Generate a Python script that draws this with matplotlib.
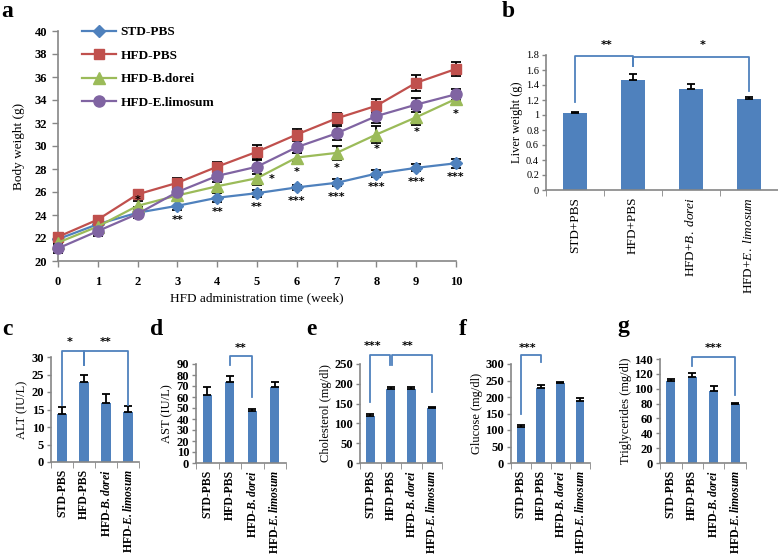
import matplotlib
matplotlib.use("Agg")
import matplotlib.pyplot as plt
import numpy as np

plt.rcParams["font.family"] = ["Liberation Serif", "DejaVu Serif"]
plt.rcParams["mathtext.fontset"] = "custom"
plt.rcParams["mathtext.rm"] = "Liberation Serif"
plt.rcParams["mathtext.it"] = "Liberation Serif:italic"
plt.rcParams["mathtext.bf"] = "Liberation Serif:bold"
plt.rcParams["mathtext.bfit"] = "Liberation Serif:italic:bold"

# ── data: panel a (body weight) ──────────────────────────────────────────────
WEEKS = list(range(11))
SERIES = ["STD-PBS", "HFD-PBS", "HFD-B.dorei", "HFD-E.limosum"]
STD_PBS = [21.9, 23.2, 24.2, 24.8, 25.5, 25.9, 26.4, 26.8, 27.6, 28.1, 28.5]
HFD_PBS = [22.1, 23.6, 25.8, 26.8, 28.2, 29.5, 31.0, 32.4, 33.5, 35.5, 36.7]
HFD_BDO = [21.6, 23.0, 24.8, 25.7, 26.5, 27.2, 29.0, 29.4, 31.0, 32.5, 34.1]
HFD_ELI = [21.1, 22.6, 24.1, 26.0, 27.4, 28.2, 29.9, 31.1, 32.6, 33.6, 34.5]
STD_PBS_ERR = [0.3, 0.3, 0.5, 0.4, 0.4, 0.3, 0.2, 0.3, 0.3, 0.3, 0.4]
HFD_PBS_ERR = [0.3, 0.3, 0.3, 0.4, 0.4, 0.6, 0.5, 0.5, 0.6, 0.7, 0.6]
HFD_BDO_ERR = [0.3, 0.3, 0.4, 0.5, 0.6, 0.6, 0.4, 0.6, 0.7, 0.7, 0.5]
HFD_ELI_ERR = [0.4, 0.4, 0.4, 0.3, 0.5, 0.6, 0.5, 0.6, 0.6, 0.6, 0.5]
SIG_STD = ["", "", "", "**", "**", "**", "***", "***", "***", "***", "***"]
SIG_BDO = ["", "", "*", "", "", "*", "*", "*", "*", "*", "*"]

# ── data: panels b-g (bar charts) ────────────────────────────────────────────
LABELS_B = ["STD+PBS", "HFD+PBS", r"HFD+$\mathit{B.\ dorei}$", r"HFD+$\mathit{E.\ limosum}$"]
LABELS_CG = ["STD-PBS", "HFD-PBS", r"HFD-$\mathbfit{B.dorei}$", r"HFD-$\mathbfit{E.limosum}$"]

LIVER = [1.03, 1.47, 1.35, 1.21]
LIVER_ERR = [0.01, 0.08, 0.06, 0.03]
ALT = [13.8, 22.8, 16.9, 14.2]
ALT_ERR = [1.8, 2.0, 2.6, 1.8]
AST = [62.0, 73.5, 47.5, 69.5]
AST_ERR = [7.0, 5.5, 1.8, 4.5]
CHOL = [119, 188, 188, 139]
CHOL_ERR = [4, 5, 5, 2]
GLUC = [110, 227, 241, 187]
GLUC_ERR = [6, 10, 5, 10]
TRIG = [110, 116, 97, 80]
TRIG_ERR = [3, 5, 7, 1]

# ── palette ─────────────────────────────────────────────────────────────────
BLUE = "#4F81BD"
RED = "#C0504D"
GREEN = "#9BBB59"
PURPLE = "#8064A2"
SPINE = "#868686"
BRACKET = "#4F81BD"

W, H = 778, 559
fig = plt.figure(figsize=(W / 100, H / 100), dpi=100)


def pos(l, r, t, b):
    return [l / W, 1 - b / H, (r - l) / W, (b - t) / H]


def style_axes(ax):
    for s in ["top", "right"]:
        ax.spines[s].set_visible(False)
    for s in ["left", "bottom"]:
        ax.spines[s].set_color(SPINE)
        ax.spines[s].set_linewidth(1.2)
    ax.tick_params(colors=SPINE, labelcolor="black", width=1, direction="out")


# ── panel a ─────────────────────────────────────────────────────────────────
ax = fig.add_axes(pos(58, 456, 31, 261))
style_axes(ax)
specs = [
    (STD_PBS, STD_PBS_ERR, BLUE, "D", 6.5),
    (HFD_PBS, HFD_PBS_ERR, RED, "s", 7.5),
    (HFD_BDO, HFD_BDO_ERR, GREEN, "^", 8),
    (HFD_ELI, HFD_ELI_ERR, PURPLE, "o", 8),
]
for name, (vals, errs, col, mk, ms) in zip(SERIES, specs):
    ax.errorbar(WEEKS, vals, yerr=errs, fmt="none", ecolor="black",
                elinewidth=1.3, capsize=3.5, capthick=1.3, zorder=2, clip_on=False)
    ax.plot(WEEKS, vals, color=col, marker=mk, markersize=ms, lw=1.6,
            label=name, zorder=3, clip_on=False)

star_kw = dict(ha="center", va="center", fontsize=8, fontweight="bold",
               family="DejaVu Sans")
for wk, lab in enumerate(SIG_STD):
    if lab:
        ax.text(wk, STD_PBS[wk] - 1.2, lab, **star_kw)
for wk, lab in enumerate(SIG_BDO):
    if not lab:
        continue
    if wk == 2:
        ax.text(wk, HFD_BDO[wk] + 0.5, lab, **star_kw)
    elif wk == 5:
        ax.text(wk + 0.38, HFD_BDO[wk] - 0.1, lab, **star_kw)
    else:
        ax.text(wk, HFD_BDO[wk] - 1.3, lab, **star_kw)

ax.set_xlim(0, 10)
ax.set_ylim(20, 40)
ax.set_xticks(WEEKS)
ax.set_yticks(np.arange(20, 41, 2))
ax.tick_params(axis="x", length=4, pad=7, labelsize=9)
ax.tick_params(axis="y", length=4, pad=4, labelsize=9)
for t in ax.get_xticklabels() + ax.get_yticklabels():
    t.set_fontweight("bold")
ax.set_xlabel("HFD administration time (week)", fontsize=9.5, labelpad=3)
ax.set_ylabel("Body weight (g)", fontsize=9.5, labelpad=7)
ax.legend(loc="upper left", bbox_to_anchor=(82 / W, 1 - 26 / H),
          bbox_transform=fig.transFigure, frameon=False,
          prop={"weight": "bold", "size": 9.5}, handlelength=2.6,
          handletextpad=0.3, labelspacing=0.85, borderpad=0, borderaxespad=0)


# ── bar panels ──────────────────────────────────────────────────────────────
def bar_panel(rect, vals, errs, ymax, step, labels, ylabel, bold=True,
              tick_fs=9, label_fs=8.5):
    ax = fig.add_axes(rect)
    style_axes(ax)
    x = np.arange(len(vals))
    ax.bar(x, vals, width=0.42, color=BLUE, zorder=2)
    ax.errorbar(x, vals, yerr=[np.zeros(len(vals)), errs], fmt="none",
                ecolor="black", elinewidth=1.3, capsize=3.2, capthick=1.3,
                zorder=3)
    ax.set_xlim(-0.5, len(vals) - 0.5)
    ax.set_ylim(0, ymax)
    ticks = np.arange(0, ymax + step / 2, step)
    ax.set_yticks(ticks)
    ax.set_yticklabels([f"{round(t, 2):g}" for t in ticks])
    ax.set_xticks(x)
    ax.set_xticklabels(labels, rotation=90, fontsize=label_fs,
                       fontweight="bold" if bold else "normal")
    ax.set_xticks(np.arange(-0.5, len(vals)), minor=True)
    ax.tick_params(axis="x", which="major", length=0, pad=5)
    ax.tick_params(axis="x", which="minor", length=4, color=SPINE)
    ax.tick_params(axis="y", length=3, pad=2, labelsize=tick_fs)
    if bold:
        for t in ax.get_yticklabels():
            t.set_fontweight("bold")
    ax.set_ylabel(ylabel, fontsize=9, labelpad=2)
    return ax


def bracket(ax, x0, x1, top, y0, y1):
    ax.plot([x0, x0, x1, x1], [y0, top, top, y1], color=BRACKET, lw=1.3,
            clip_on=False, zorder=4)


def stars(ax, x, y, label):
    ax.text(x, y, label, ha="center", va="center", fontsize=8,
            fontweight="bold", family="DejaVu Sans", clip_on=False)


# panel b
ax = bar_panel(pos(546, 778, 55, 190), LIVER, LIVER_ERR, 1.8, 0.2, LABELS_B,
               "Liver weight (g)", bold=False, tick_fs=7.5, label_fs=9.5)
bracket(ax, 0, 1, 1.79, 1.17, 1.65)
bracket(ax, 1, 3, 1.77, 1.65, 1.32)
stars(ax, 0.55, 1.93, "**")
stars(ax, 2.2, 1.93, "*")

# panel c
ax = bar_panel(pos(51, 139, 357, 462), ALT, ALT_ERR, 30, 5, LABELS_CG, "ALT (IU/L)")
bracket(ax, 0, 1, 31.8, 16.3, 27.7)
bracket(ax, 1, 3, 31.8, 27.7, 16.3)
stars(ax, 0.35, 34.2, "*")
stars(ax, 2.0, 34.2, "**")

# panel d
ax = bar_panel(pos(196, 286, 364, 463), AST, AST_ERR, 90, 10, LABELS_CG, "AST (IU/L)")
bracket(ax, 1, 2, 97.5, 89, 60)
stars(ax, 1.5, 105, "**")

# panel e
ax = bar_panel(pos(360, 442, 364, 463), CHOL, CHOL_ERR, 250, 50, LABELS_CG,
               "Cholesterol (mg/dl)")
bracket(ax, 0, 0.95, 273, 155, 247)
bracket(ax, 1.05, 3, 273, 247, 180)
stars(ax, 0.1, 295, "***")
stars(ax, 1.8, 295, "**")

# panel f
ax = bar_panel(pos(511, 590, 364, 463), GLUC, GLUC_ERR, 300, 50, LABELS_CG,
               "Glucose (mg/dl)")
bracket(ax, 0, 1, 327, 150, 307)
stars(ax, 0.35, 348, "***")

# panel g
ax = bar_panel(pos(660, 746, 359, 463), TRIG, TRIG_ERR, 140, 20, LABELS_CG,
               "Triglycerides (mg/dl)")
bracket(ax, 1, 3, 143, 130.5, 91)
stars(ax, 2.0, 155, "***")

# ── panel letters ───────────────────────────────────────────────────────────
for letter, x, y in [("a", 1, 17), ("b", 502, 17), ("c", 2, 335), ("d", 150, 335),
                     ("e", 306, 335), ("f", 459, 335), ("g", 617, 332)]:
    fig.text(x / W, 1 - y / H, letter, fontsize=17, fontweight="bold",
             ha="left", va="baseline")

fig.savefig("out.png", dpi=100, facecolor="white")
